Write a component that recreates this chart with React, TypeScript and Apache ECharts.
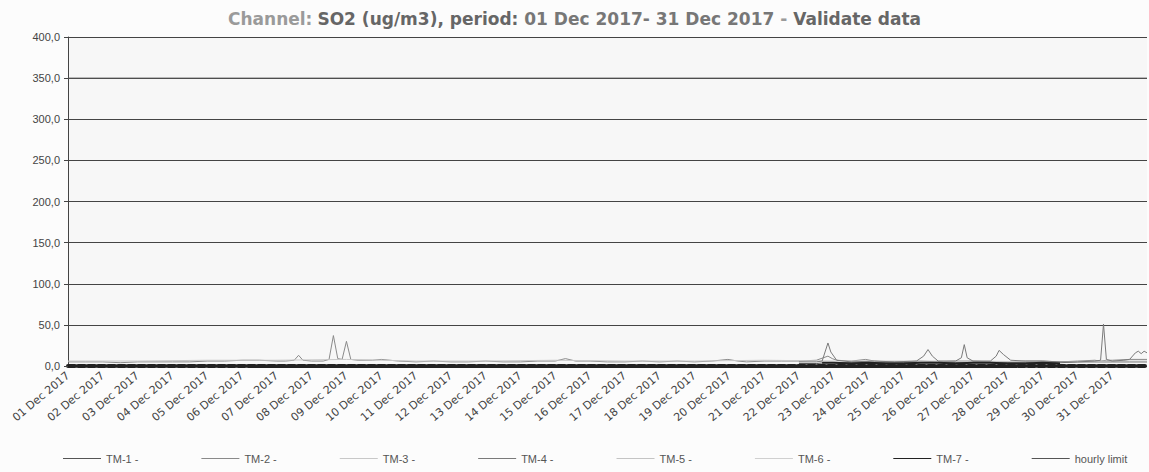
import React, { useEffect, useRef } from "react";
import * as echarts from "echarts";

// hours since 01 Dec 2017 00:00 (x) and SO2 ug/m3 (y)
const tm1Hours = [504, 516, 522, 528, 540, 552, 564, 576, 588, 600, 612, 624, 636, 648, 660, 672, 684, 696, 708, 720, 732, 744];
const tm1Values = [3, 3, 4, 4, 4, 4, 4, 4, 4, 4, 4, 4, 4, 4, 4, 5, 4, 5, 5, 5, 5, 5];

const tm2Hours = [0, 12, 24, 36, 48, 60, 72, 84, 96, 108, 120, 132, 144, 150, 156, 159, 162, 168, 176, 180, 183, 186, 189, 192, 195, 200, 210, 216, 228, 240, 252, 264, 276, 288, 300, 312, 324, 336, 343, 350, 360, 372, 384, 396, 408, 420, 432, 444, 455, 462, 468, 480, 492, 504, 516, 524, 527, 530, 540, 550, 556, 564, 576, 588, 600, 612, 624, 636, 648, 660, 672, 684, 696, 708, 712, 716, 720, 732, 744];
const tm2Values = [5, 5, 5, 4, 5, 5, 5, 5, 6, 6, 7, 7, 6, 6, 7, 13, 7, 6, 6, 8, 37, 9, 8, 30, 8, 7, 7, 8, 6, 5, 6, 5, 5, 6, 5, 5, 6, 6, 9, 6, 6, 5, 5, 6, 5, 6, 5, 6, 8, 6, 5, 6, 6, 6, 7, 12, 9, 7, 6, 8, 6, 5, 5, 6, 5, 6, 6, 5, 5, 6, 6, 5, 6, 7, 6, 7, 7, 8, 8];

const tm3Hours = [0, 48, 96, 144, 192, 240, 288, 336, 384, 432, 480, 528, 576, 624, 672, 720, 744];
const tm3Values = [6, 6, 7, 7, 8, 6, 6, 7, 6, 6, 7, 6, 6, 6, 5, 6, 6];

const tm4Hours = [504, 516, 520, 524, 526, 530, 540, 556, 570, 585, 590, 593, 596, 600, 612, 616, 618, 620, 624, 636, 640, 642, 645, 650, 660, 672, 684, 696, 708, 712, 714, 716, 720, 728, 732, 736, 738, 740, 742, 744];
const tm4Values = [5, 5, 6, 28, 17, 7, 5, 6, 5, 6, 12, 20, 12, 6, 6, 10, 26, 10, 6, 6, 12, 19, 14, 7, 6, 6, 5, 5, 6, 7, 51, 8, 6, 7, 8, 16, 18, 15, 18, 16];

const tm7Hours = [520, 528, 540, 552, 564, 576, 588, 600, 612, 624, 636, 648, 660, 672, 684];
const tm7Values = [4, 4, 3, 4, 3, 3, 4, 4, 3, 4, 4, 3, 3, 4, 3];

const limitHours = [0, 744];
const limitValues = [350, 350];

const seriesNames = ["TM-1 -", "TM-2 -", "TM-3 -", "TM-4 -", "TM-5 -", "TM-6 -", "TM-7 -", "hourly limit"];
const seriesColors = ["#555555", "#8a8a8a", "#c8c8c8", "#7a7a7a", "#c4c4c4", "#d0d0d0", "#222222", "#555555"];
const seriesWidths = [1, 1, 1, 1, 1, 1, 2, 1];

const yTicks = [0, 50, 100, 150, 200, 250, 300, 350, 400];

const pairs = (h: number[], v: number[]) => h.map((x, i) => [x, v[i]]);

export default function App() {
  const ref = useRef<HTMLDivElement>(null);
  useEffect(() => {
    if (!ref.current) return;
    const chart = echarts.init(ref.current, undefined, { renderer: "svg" });
    const dataSets: (number[][])[] = [
      pairs(tm1Hours, tm1Values),
      pairs(tm2Hours, tm2Values),
      pairs(tm3Hours, tm3Values),
      pairs(tm4Hours, tm4Values),
      [],
      [],
      pairs(tm7Hours, tm7Values),
      pairs(limitHours, limitValues),
    ];
    chart.setOption({
      animation: false,
      backgroundColor: "#fcfcfc",
      title: {
        left: "center",
        top: 5,
        text: "{a|Channel:} {b|SO2 (ug/m3), period: }{c|01 Dec 2017- 31 Dec 2017}{a| - }{b|Validate data}",
        textStyle: {
          rich: {
            a: { fontFamily: "DejaVu Sans", fontSize: 17, color: "#9a9a9a" },
            b: { fontFamily: "DejaVu Sans", fontSize: 17, color: "#666", fontWeight: "bold" },
            c: { fontFamily: "DejaVu Sans", fontSize: 17, color: "#777" },
          },
        },
      },
      legend: {
        bottom: 3,
        left: 58,
        itemGap: 63,
        itemWidth: 38,
        itemHeight: 8,
        icon: "path://M0,4 L38,4 L38,5 L0,5 Z",
        textStyle: { fontFamily: "Liberation Sans", fontSize: 11, color: "#555" },
        data: seriesNames,
      },
      grid: { left: 68, right: 2, top: 37, bottom: 106, backgroundColor: "#f7f7f7", show: true, borderWidth: 0 },
      xAxis: {
        type: "value",
        min: 0,
        max: 744,
        interval: 24,
        axisLine: { show: true, onZero: false, lineStyle: { color: "#222", width: 4, type: [7, 3] } },
        axisTick: { show: false },
        splitLine: { show: false },
        axisLabel: {
          rotate: 40,
          showMaxLabel: false,
          margin: 8,
          fontFamily: "DejaVu Sans",
          fontSize: 11,
          color: "#444",
          formatter: (v: number) => {
            const d = Math.round(v / 24) + 1;
            return (d < 10 ? "0" + d : String(d)) + " Dec 2017";
          },
        },
      },
      yAxis: {
        type: "value",
        min: yTicks[0],
        max: yTicks[yTicks.length - 1],
        interval: 50,
        axisLine: { show: true, lineStyle: { color: "#444", width: 1 } },
        axisTick: { show: true, length: 4, lineStyle: { color: "#444" } },
        splitLine: { show: true, lineStyle: { color: "#444", width: 1 } },
        axisLabel: {
          fontFamily: "Liberation Sans",
          fontSize: 11,
          color: "#444",
          margin: 8,
          formatter: (v: number) => v.toFixed(1).replace(".", ","),
        },
      },
      series: seriesNames.map((name, i) => ({
        name,
        type: "line",
        data: dataSets[i],
        showSymbol: false,
        symbol: "none",
        lineStyle: { color: seriesColors[i], width: seriesWidths[i] },
        itemStyle: { color: seriesColors[i] },
        z: i === 7 ? 1 : 3,
      })),
    });
    return () => chart.dispose();
  }, []);
  return <div ref={ref} style={{ position: "fixed", left: 0, top: 0, width: 1149, height: 472 }} />;
}
